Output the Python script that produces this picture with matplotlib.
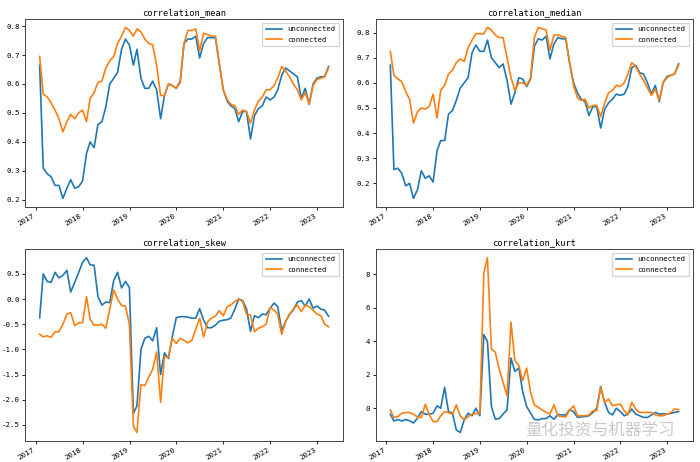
import matplotlib
matplotlib.use('Agg')
import matplotlib.pyplot as plt
import matplotlib.dates as mdates
from matplotlib.ticker import MultipleLocator
import pandas as pd

# month-end dates, 2017-01 .. 2023-03
dates = pd.date_range('2017-02-01', periods=75, freq='MS') - pd.Timedelta(days=1)

mean_unconnected = [
    0.665, 0.31, 0.29, 0.28, 0.25, 0.25, 0.205, 0.24, 0.27, 0.24, 0.245, 0.265,
    0.36, 0.40, 0.38, 0.46, 0.47, 0.52, 0.60, 0.62, 0.64, 0.72, 0.755, 0.735,
    0.665, 0.72, 0.62, 0.585, 0.585, 0.61, 0.58, 0.48, 0.56, 0.60, 0.595, 0.585,
    0.61, 0.74, 0.755, 0.755, 0.765, 0.69, 0.74, 0.76, 0.76, 0.76, 0.67, 0.58,
    0.54, 0.525, 0.515, 0.47, 0.505, 0.505, 0.41, 0.49, 0.515, 0.525, 0.555, 0.545,
    0.555, 0.58, 0.63, 0.655, 0.645, 0.635, 0.625, 0.55, 0.585, 0.53, 0.60, 0.62,
    0.625, 0.625, 0.66]
mean_connected = [
    0.695, 0.565, 0.555, 0.535, 0.51, 0.48, 0.435, 0.47, 0.495, 0.48, 0.50, 0.51,
    0.47, 0.55, 0.57, 0.605, 0.61, 0.655, 0.68, 0.695, 0.74, 0.765, 0.795, 0.785,
    0.765, 0.79, 0.78, 0.755, 0.74, 0.735, 0.665, 0.56, 0.56, 0.60, 0.595, 0.585,
    0.605, 0.74, 0.785, 0.785, 0.79, 0.715, 0.775, 0.77, 0.765, 0.765, 0.67, 0.58,
    0.545, 0.53, 0.525, 0.495, 0.51, 0.505, 0.465, 0.51, 0.54, 0.555, 0.58, 0.58,
    0.595, 0.62, 0.66, 0.645, 0.625, 0.60, 0.58, 0.545, 0.57, 0.53, 0.595, 0.615,
    0.62, 0.625, 0.655]

median_unconnected = [
    0.67, 0.255, 0.26, 0.24, 0.19, 0.20, 0.14, 0.175, 0.25, 0.22, 0.23, 0.205,
    0.33, 0.37, 0.37, 0.475, 0.49, 0.53, 0.58, 0.60, 0.62, 0.72, 0.75, 0.725,
    0.725, 0.77, 0.70, 0.68, 0.66, 0.675, 0.61, 0.515, 0.56, 0.62, 0.615, 0.585,
    0.615, 0.745, 0.775, 0.77, 0.785, 0.695, 0.755, 0.78, 0.775, 0.775, 0.68, 0.60,
    0.56, 0.535, 0.525, 0.47, 0.505, 0.505, 0.42, 0.495, 0.52, 0.535, 0.555, 0.55,
    0.555, 0.585, 0.66, 0.67, 0.64, 0.635, 0.60, 0.555, 0.59, 0.525, 0.60, 0.625,
    0.63, 0.635, 0.675]
median_connected = [
    0.725, 0.63, 0.615, 0.605, 0.565, 0.535, 0.44, 0.485, 0.50, 0.495, 0.505, 0.555,
    0.46, 0.57, 0.59, 0.635, 0.65, 0.68, 0.695, 0.685, 0.74, 0.77, 0.795, 0.795,
    0.795, 0.82, 0.81, 0.79, 0.78, 0.78, 0.70, 0.62, 0.57, 0.60, 0.60, 0.59,
    0.62, 0.78, 0.82, 0.815, 0.81, 0.73, 0.79, 0.79, 0.785, 0.78, 0.68, 0.59,
    0.54, 0.53, 0.535, 0.50, 0.51, 0.51, 0.465, 0.52, 0.56, 0.57, 0.59, 0.585,
    0.60, 0.635, 0.68, 0.665, 0.635, 0.61, 0.58, 0.55, 0.575, 0.53, 0.60, 0.62,
    0.63, 0.635, 0.67]

skew_unconnected = [
    -0.37, 0.50, 0.35, 0.33, 0.53, 0.42, 0.47, 0.57, 0.14, 0.33, 0.52, 0.73,
    0.82, 0.68, 0.67, 0.05, -0.12, -0.06, -0.07, 0.37, 0.53, 0.22, 0.35, 0.23,
    -2.27, -2.12, -1.00, -0.78, -0.74, -0.83, -0.57, -1.50, -1.07, -1.18, -0.75, -0.37,
    -0.35, -0.35, -0.36, -0.38, -0.38, -0.19, -0.42, -0.57, -0.57, -0.52, -0.44, -0.42,
    -0.41, -0.38, -0.20, 0.00, -0.03, -0.20, -0.64, -0.33, -0.37, -0.30, -0.31, -0.18,
    -0.08, -0.15, -0.62, -0.45, -0.30, -0.22, -0.06, -0.03, -0.14, 0.00, -0.18, -0.14,
    -0.20, -0.22, -0.34]
skew_connected = [
    -0.70, -0.75, -0.73, -0.76, -0.65, -0.65, -0.50, -0.30, -0.27, -0.53, -0.47, -0.47,
    0.05, -0.40, -0.52, -0.52, -0.50, -0.58, -0.20, 0.18, 0.00, -0.13, -0.14, -0.50,
    -2.53, -2.65, -1.70, -1.72, -1.55, -1.40, -1.05, -2.05, -1.15, -1.15, -0.78, -0.88,
    -0.78, -0.82, -0.87, -0.82, -0.60, -0.38, -0.75, -0.45, -0.38, -0.34, -0.23, -0.33,
    -0.15, -0.12, -0.05, 0.00, -0.05, -0.30, -0.32, -0.65, -0.58, -0.55, -0.50, -0.17,
    -0.22, -0.30, -0.70, -0.45, -0.30, -0.20, -0.12, -0.25, -0.12, -0.15, -0.22, -0.30,
    -0.33, -0.50, -0.55]

kurt_unconnected = [
    -0.36, -0.76, -0.68, -0.76, -0.68, -0.75, -0.88, -0.60, -0.20, -0.36, -0.36, -0.30,
    0.14, 0.00, 1.25, -0.20, -0.30, -1.30, -1.45, -0.70, -0.30, -0.45, 0.00, -0.45,
    4.40, 4.00, 0.10, -0.65, -0.62, -0.35, -0.10, 3.00, 2.20, 2.40, 1.00, 0.10,
    -0.30, -0.66, -0.70, -0.62, -0.62, -0.45, -0.66, -0.38, -0.40, -0.40, -0.10, -0.20,
    -0.55, -0.52, -0.50, -0.45, -0.25, 0.00, 1.30, 0.35, -0.25, -0.40, 0.00, -0.20,
    -0.45, -0.35, -0.05, -0.35, -0.45, -0.55, -0.55, -0.40, -0.25, -0.35, -0.33, -0.35,
    -0.30, -0.25, -0.20]
kurt_connected = [
    -0.10, -0.56, -0.50, -0.30, -0.26, -0.26, -0.36, -0.52, -0.56, 0.24, -0.36, -0.80,
    -0.80, -0.46, -0.20, -0.26, -0.36, 0.20, -0.46, -0.70, -0.50, -0.36, -0.32, -0.30,
    8.10, 9.00, 3.55, 3.35, 2.35, 1.55, 0.75, 5.15, 2.85, 2.55, 1.65, 2.40,
    0.95, 0.20, 0.05, -0.10, -0.25, -0.35, 0.20, -0.45, -0.50, -0.52, -0.12, 0.14,
    -0.45, -0.45, -0.45, -0.40, -0.15, -0.15, 1.25, 0.35, 0.55, 0.15, 0.20, 0.25,
    -0.15, -0.40, 0.35, -0.05, -0.25, -0.25, -0.25, -0.25, -0.40, -0.45, -0.45, -0.35,
    -0.25, -0.05, -0.08]

panels = [
    ('correlation_mean', mean_unconnected, mean_connected, 0.1),
    ('correlation_median', median_unconnected, median_connected, 0.1),
    ('correlation_skew', skew_unconnected, skew_connected, 0.5),
    ('correlation_kurt', kurt_unconnected, kurt_connected, 2),
]

plt.rcParams['font.family'] = ['DejaVu Sans Mono']
plt.rcParams['axes.unicode_minus'] = False

fig = plt.figure(figsize=(7, 4.62), dpi=100)
positions = [
    [0.036, 0.552, 0.454, 0.407],
    [0.537, 0.552, 0.453, 0.407],
    [0.036, 0.045, 0.454, 0.416],
    [0.537, 0.045, 0.453, 0.416],
]

for pos, (title, unconn, conn, step) in zip(positions, panels):
    ax = fig.add_axes(pos)
    ax.plot(dates, unconn, color='#1f77b4', lw=1.2, label='unconnected')
    ax.plot(dates, conn, color='#ff7f0e', lw=1.2, label='connected')
    ax.set_title(title, fontsize=6.2, pad=3)
    ax.yaxis.set_major_locator(MultipleLocator(step))
    ax.xaxis.set_major_locator(mdates.YearLocator())
    ax.xaxis.set_major_formatter(mdates.DateFormatter('%Y'))
    ax.tick_params(labelsize=5.4, length=2.5, width=0.6, pad=1.5)
    for lbl in ax.get_xticklabels():
        lbl.set_rotation(30)
        lbl.set_ha('right')
    for sp in ax.spines.values():
        sp.set_linewidth(0.7)
        sp.set_color('#444444')
    ax.legend(loc='upper right', fontsize=5.2, handlelength=2.2,
              borderpad=0.5, labelspacing=0.6)

# watermark
fig.text(0.857, 0.069, '量化投资与机器学习', family=['Noto Sans CJK SC'],
         fontsize=12, color='#b8b8b8', alpha=0.75, ha='center', va='center')

fig.savefig('out.png', dpi=100)
